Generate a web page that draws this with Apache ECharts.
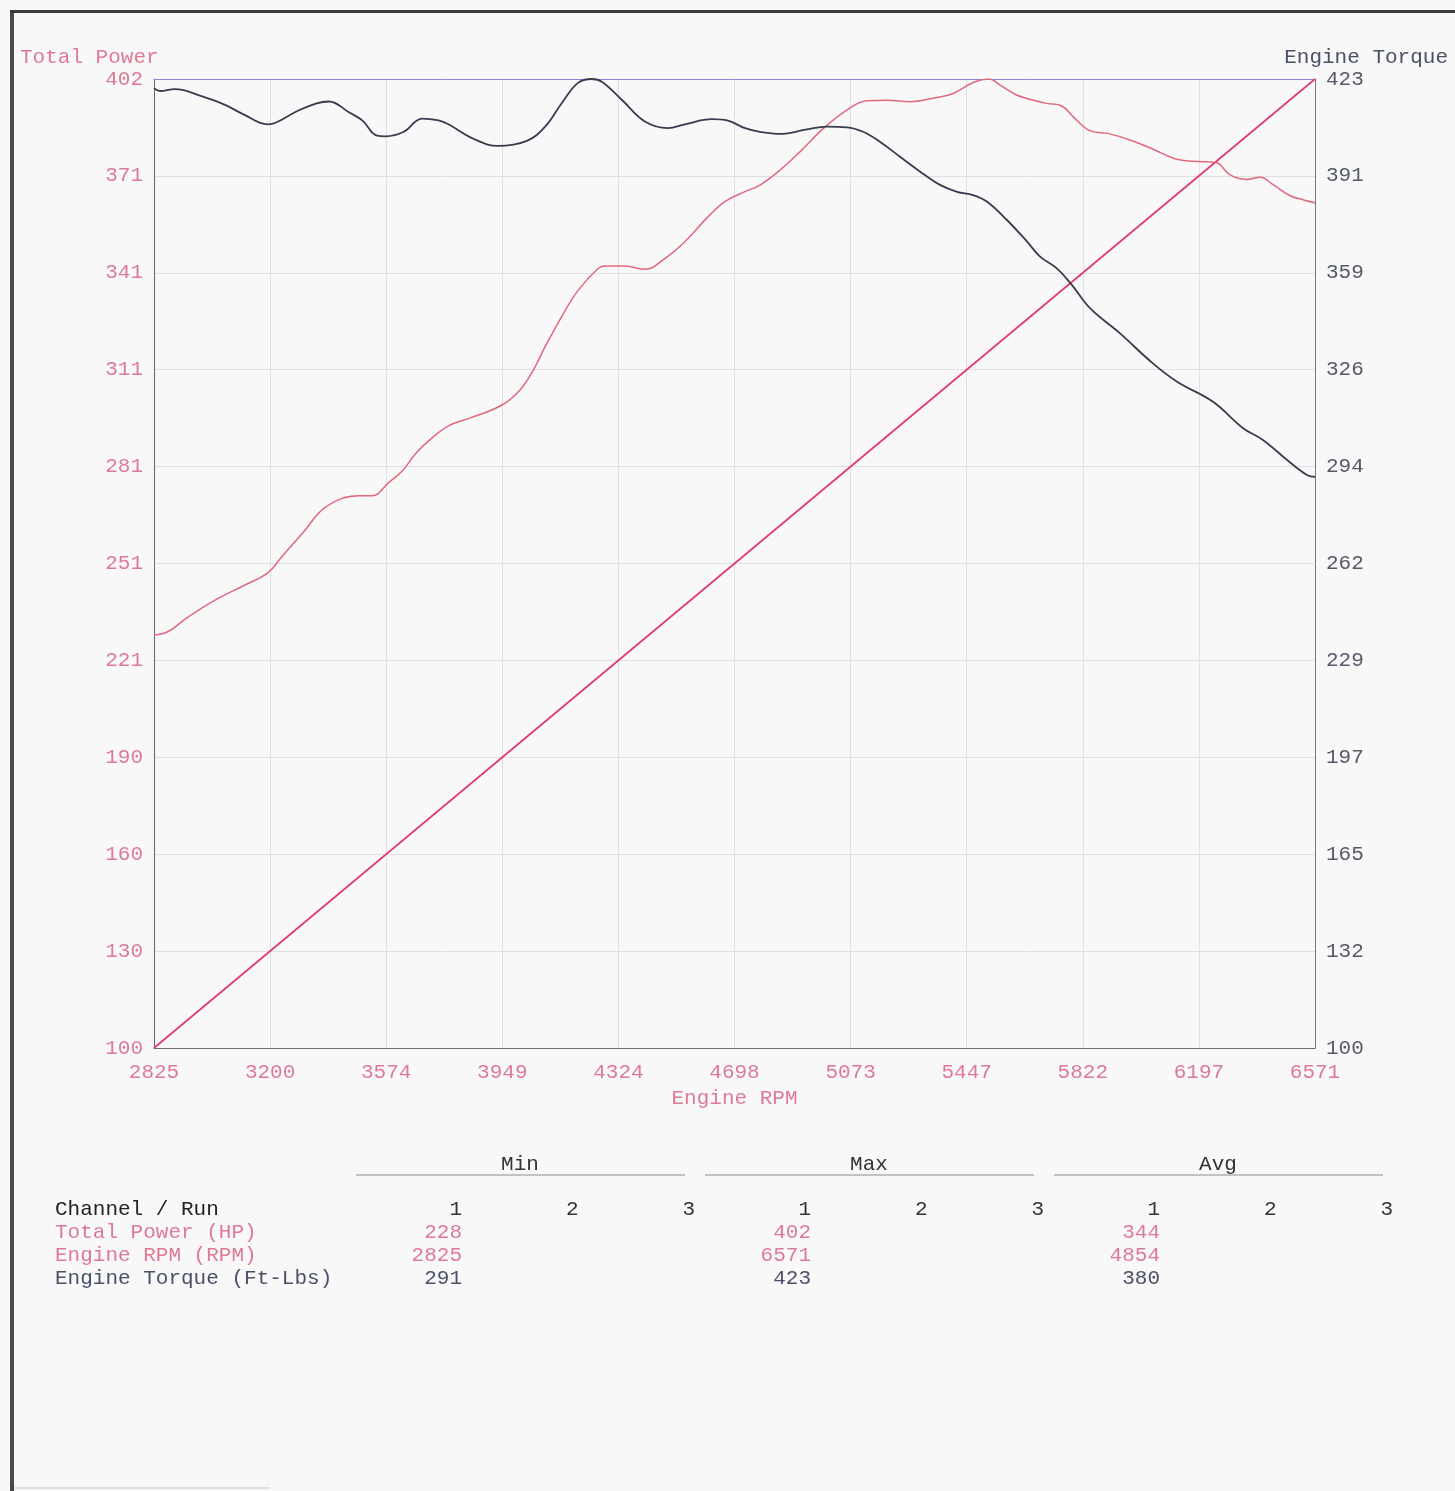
<!DOCTYPE html>
<html><head><meta charset="utf-8">
<script src="https://cdn.jsdelivr.net/npm/echarts@6/dist/echarts.min.js"></script>
<style>html,body{margin:0;padding:0;background:#f8f8f9;} #c{width:1455px;height:1491px;}</style>
</head><body><div id="c"></div>
<script>
// ---- Data ----
const rpmTickLabels = [2825,3200,3574,3949,4324,4698,5073,5447,5822,6197,6571];
const powerTickLabels = [100,130,160,190,221,251,281,311,341,371,402];
const torqueTickLabels = [100,132,165,197,229,262,294,326,359,391,423];

const powerRpm = [2825,2871,2930,3026,3112,3192,3240,3304,3379,3486,3529,3583,3626,3668,3711,3775,3844,3948,4006,4049,4087,4140,4194,4259,4280,4345,4409,4474,4538,4613,4667,4732,4780,4845,4909,4985,5060,5124,5189,5264,5339,5404,5468,5520,5555,5608,5651,5705,5754,5791,5845,5909,5974,6049,6114,6157,6222,6254,6297,6351,6394,6437,6491,6534,6571];
const powerHp = [228.7,229.8,234,239.8,244,248.1,253.4,260.4,268.6,272.1,272.1,276.3,279.8,285.1,289.2,293.9,296.3,300.4,305.1,311.3,318.6,327.9,336.2,343,343.7,343.7,342.7,346.1,351.3,359.1,363.8,366.9,368.9,373.6,379.3,386.6,392.3,395.2,395.4,394.9,396,397.5,400.9,402,400.1,397,395.7,394.4,393.6,390.2,385.9,384.9,383,380.1,377.3,376.5,376.2,375.9,372.1,370.7,371.4,369,365.6,364.3,363.4];

const torqueRpm = [2825,2844,2892,2983,3058,3112,3192,3219,3283,3347,3390,3454,3497,3545,3572,3631,3690,3743,3775,3851,3935,4028,4087,4141,4193,4238,4270,4335,4409,4483,4538,4625,4677,4732,4780,4845,4932,4996,5061,5113,5167,5232,5297,5361,5416,5468,5513,5577,5642,5684,5738,5787,5845,5942,6048,6126,6242,6339,6403,6481,6545,6571];
const torqueFt = [419.9,419.0,419.6,417.1,414.2,411.3,407.9,408.5,412.1,414.8,415.5,411.9,409.2,404.1,403.9,405.4,409.8,409.2,407.9,403.3,400.7,402.4,407.1,415,421.7,423,422.1,416,408.8,406.6,407.9,409.6,409.1,406.6,405.4,404.7,406.2,407.1,406.9,405.4,402.1,397.1,392.1,387.7,385.4,384.3,382.1,376,368.8,363.8,359.9,354.3,346.6,338.2,328.2,322.1,315.4,306.6,302.7,296,291,290.4];

const rpmLineX = [2825, 6571];
const rpmLineY = [2825, 6571];

const channels = ['Total Power (HP)', 'Engine RPM (RPM)', 'Engine Torque (Ft-Lbs)'];
const minVals = [228, 2825, 291];
const maxVals = [402, 6571, 423];
const avgVals = [344, 4854, 380];
const groups = ['Min', 'Max', 'Avg'];
const runs = ['1', '2', '3'];

// ---- Styles ----
const FONT = 'Liberation Mono';
const FS = 21;
const FONTCSS = FS + 'px "Liberation Mono"';
const PINK_TEXT = '#de7a95';
const DARK = '#4a5066';
const chColors = [PINK_TEXT, PINK_TEXT, DARK];

function evenTicks(labels){
  const mn = labels[0], mx = labels[labels.length-1], n = labels.length-1;
  return labels.map((_, i) => mn + i*(mx-mn)/n);
}
const xPos = evenTicks(rpmTickLabels);
const lPos = evenTicks(powerTickLabels);
const rPos = evenTicks(torqueTickLabels);
function labelFor(pos, labels){
  return v => { for (let i=0;i<pos.length;i++){ if (Math.abs(v-pos[i])<1e-6) return String(labels[i]); } return ''; };
}

const chart = echarts.init(document.getElementById('c'), null, {renderer:'canvas'});

const g = [];
g.push({type:'rect', shape:{x:10,y:10,width:4,height:1481}, style:{fill:'#4a4a4a'}});
g.push({type:'rect', shape:{x:10,y:10,width:1445,height:3}, style:{fill:'#3c3c3c'}});
g.push({type:'line', shape:{x1:14,y1:1488,x2:270,y2:1488}, style:{stroke:'#c8c8cc', lineWidth:1}});
g.push({type:'text', x:20, y:57, style:{text:'Total Power', fill:PINK_TEXT, font:FONTCSS, align:'left', verticalAlign:'middle'}});
g.push({type:'text', x:1448, y:57, style:{text:'Engine Torque', fill:DARK, font:FONTCSS, align:'right', verticalAlign:'middle'}});
for (let gi=0; gi<3; gi++){
  const cx = 520 + gi*349;
  g.push({type:'text', x:cx, y:1164, style:{text:groups[gi], fill:'#333', font:FONTCSS, align:'center', verticalAlign:'middle'}});
  g.push({type:'line', shape:{x1:cx-164, y1:1175, x2:cx+165, y2:1175}, style:{stroke:'#8a8a96', lineWidth:1}});
  for (let r=0; r<3; r++){
    g.push({type:'text', x:462 + gi*349 + r*116.5, y:1209, style:{text:runs[r], fill:'#333', font:FONTCSS, align:'right', verticalAlign:'middle'}});
  }
}
g.push({type:'text', x:55, y:1209, style:{text:'Channel / Run', fill:'#222', font:FONTCSS, align:'left', verticalAlign:'middle'}});
const vals = [minVals, maxVals, avgVals];
for (let c=0; c<3; c++){
  const y = 1232 + c*23;
  g.push({type:'text', x:55, y:y, style:{text:channels[c], fill:chColors[c], font:FONTCSS, align:'left', verticalAlign:'middle'}});
  for (let gi=0; gi<3; gi++){
    g.push({type:'text', x:462 + gi*349, y:y, style:{text:String(vals[gi][c]), fill:chColors[c], font:FONTCSS, align:'right', verticalAlign:'middle'}});
  }
}

const option = {
  backgroundColor:'#f8f8f9',
  animation:false,
  grid:{left:154, top:79, width:1161, height:969, containLabel:false},
  xAxis:[{
    type:'value', min:2825, max:6571, position:'bottom',
    axisLine:{show:true, onZero:false, lineStyle:{color:'#6a6a78', width:1}},
    axisTick:{show:false, customValues:xPos},
    axisLabel:{customValues:xPos, formatter:labelFor(xPos, rpmTickLabels), color:PINK_TEXT, fontFamily:FONT, fontSize:FS, margin:14},
    splitLine:{show:true, lineStyle:{color:'#e0e0e4', width:1}},
    name:'Engine RPM', nameLocation:'middle', nameGap:38,
    nameTextStyle:{color:PINK_TEXT, fontFamily:FONT, fontSize:FS}
  },{
    type:'value', min:2825, max:6571, position:'top',
    axisLine:{show:true, onZero:false, lineStyle:{color:'#8c84e6', width:1}},
    axisTick:{show:false}, axisLabel:{show:false}, splitLine:{show:false}
  }],
  yAxis:[{
    type:'value', min:100, max:402, position:'left',
    axisLine:{show:true, onZero:false, lineStyle:{color:'#666', width:1}},
    axisTick:{show:false, customValues:lPos},
    axisLabel:{customValues:lPos, formatter:labelFor(lPos, powerTickLabels), color:PINK_TEXT, fontFamily:FONT, fontSize:FS, margin:11},
    splitLine:{show:true, lineStyle:{color:'#e0e0e4', width:1}}
  },{
    type:'value', min:100, max:423, position:'right',
    axisLine:{show:true, onZero:false, lineStyle:{color:'#777', width:1}},
    axisTick:{show:false, customValues:rPos},
    axisLabel:{customValues:rPos, formatter:labelFor(rPos, torqueTickLabels), color:'#555a66', fontFamily:FONT, fontSize:FS, margin:11},
    splitLine:{show:false}
  },{
    type:'value', min:2825, max:6571, show:false
  }],
  series:[{
    name:'Engine RPM', type:'line', xAxisIndex:0, yAxisIndex:2, symbol:'none',
    data: rpmLineX.map((x,i)=>[x, rpmLineY[i]]),
    lineStyle:{color:'#e23a6c', width:1.7}
  },{
    name:'Total Power', type:'line', xAxisIndex:0, yAxisIndex:0, symbol:'none', smooth:0.4,
    data: powerRpm.map((x,i)=>[x, powerHp[i]]),
    lineStyle:{color:'#e2687c', width:1.5}
  },{
    name:'Engine Torque', type:'line', xAxisIndex:0, yAxisIndex:1, symbol:'none', smooth:0.4,
    data: torqueRpm.map((x,i)=>[x, torqueFt[i]]),
    lineStyle:{color:'#383c4e', width:1.8}
  }],
  graphic: g
};
chart.setOption(option);
</script>
</body></html>
